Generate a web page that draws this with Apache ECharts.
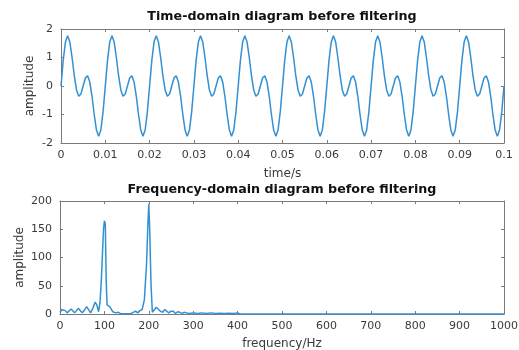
<!DOCTYPE html>
<html>
<head>
<meta charset="utf-8">
<title>Signal before filtering</title>
<script src="https://cdn.jsdelivr.net/npm/echarts@6/dist/echarts.min.js"></script>
<style>
  html, body { margin: 0; padding: 0; background: #fff; }
  #chart { width: 519px; height: 350px; }
</style>
</head>
<body>
<div id="chart"></div>
<script>
// Time-domain samples (sampling interval 0.5 ms), amplitude values
const sampleInterval = 0.0005;
const timeAmplitude = [
  0, 0.90, 1.54, 1.76, 1.54, 1.00, 0.36, -0.14, -0.36, -0.28, 0, 0.28, 0.36, 0.14, -0.36, -1.00, -1.54, -1.76, -1.54, -0.90,
  0, 0.90, 1.54, 1.76, 1.54, 1.00, 0.36, -0.14, -0.36, -0.28, 0, 0.28, 0.36, 0.14, -0.36, -1.00, -1.54, -1.76, -1.54, -0.90,
  0, 0.90, 1.54, 1.76, 1.54, 1.00, 0.36, -0.14, -0.36, -0.28, 0, 0.28, 0.36, 0.14, -0.36, -1.00, -1.54, -1.76, -1.54, -0.90,
  0, 0.90, 1.54, 1.76, 1.54, 1.00, 0.36, -0.14, -0.36, -0.28, 0, 0.28, 0.36, 0.14, -0.36, -1.00, -1.54, -1.76, -1.54, -0.90,
  0, 0.90, 1.54, 1.76, 1.54, 1.00, 0.36, -0.14, -0.36, -0.28, 0, 0.28, 0.36, 0.14, -0.36, -1.00, -1.54, -1.76, -1.54, -0.90,
  0, 0.90, 1.54, 1.76, 1.54, 1.00, 0.36, -0.14, -0.36, -0.28, 0, 0.28, 0.36, 0.14, -0.36, -1.00, -1.54, -1.76, -1.54, -0.90,
  0, 0.90, 1.54, 1.76, 1.54, 1.00, 0.36, -0.14, -0.36, -0.28, 0, 0.28, 0.36, 0.14, -0.36, -1.00, -1.54, -1.76, -1.54, -0.90,
  0, 0.90, 1.54, 1.76, 1.54, 1.00, 0.36, -0.14, -0.36, -0.28, 0, 0.28, 0.36, 0.14, -0.36, -1.00, -1.54, -1.76, -1.54, -0.90,
  0, 0.90, 1.54, 1.76, 1.54, 1.00, 0.36, -0.14, -0.36, -0.28, 0, 0.28, 0.36, 0.14, -0.36, -1.00, -1.54, -1.76, -1.54, -0.90,
  0, 0.90, 1.54, 1.76, 1.54, 1.00, 0.36, -0.14, -0.36, -0.28, 0, 0.28, 0.36, 0.14, -0.36, -1.00, -1.54, -1.76, -1.54, -0.90,
  0
];

// Magnitude spectrum: frequency (Hz) and amplitude
const spectrumHz = [
  0, 4, 8, 12, 16, 20, 25, 29, 33, 37, 41, 45, 50, 55, 60, 64, 69, 74, 79, 83, 87, 90, 93, 96, 98, 100,
  102, 104, 106, 109, 112, 115, 119, 122, 126, 131, 136, 140, 150, 160, 165, 170, 175, 180, 185, 190,
  192, 195, 198, 200, 202, 205, 208, 212, 217, 221, 226, 231, 236, 240, 245, 250, 255, 260, 265, 270,
  275, 280, 285, 290, 300, 310, 320, 330, 340, 350, 360, 370, 380, 390, 400, 405, 1000
];
const spectrumAmp = [
  3, 8, 9, 6, 2, 4, 9, 7, 2, 5, 10, 8, 2, 7, 13, 10, 2, 10, 21, 16, 4, 20, 58, 60, 150, 165,
  160, 60, 16, 14, 13, 10, 4, 1, 2, 3, 1, 0.5, 0.5, 1, 3, 5, 2, 6, 8, 25,
  22, 90, 160, 195, 150, 52, 3, 6, 12, 13, 5, 3, 8, 7, 2, 5, 5, 1, 4, 3,
  1, 3, 2, 1, 2, 1, 2, 1, 2, 1, 1.5, 1, 1.5, 1, 2, 0, 0
];

const timeTicks = { min: 0, max: 0.1, interval: 0.01 };
const timeYTicks = { min: -2, max: 2, interval: 1 };
const freqTicks = { min: 0, max: 1000, interval: 100 };
const freqYTicks = { min: 0, max: 200, interval: 50 };

const lineColor = '#3290d3';
const frameColor = '#7a7a7a';
const labelColor = '#3a3a3a';
const fontFamily = '"DejaVu Sans", "Liberation Sans", sans-serif';

const timeData = timeAmplitude.map((v, i) => [i * sampleInterval, v]);
const spectrumData = spectrumHz.map((f, i) => [f, spectrumAmp[i]]);

function frameAxis(extra) {
  return Object.assign({
    type: 'value',
    nameMoveOverlap: false,
    axisLine: { show: true, onZero: false, lineStyle: { color: frameColor, width: 1 } },
    axisTick: { show: true, inside: true, length: 3, lineStyle: { color: frameColor } },
    splitLine: { show: false },
    axisLabel: { show: true, color: labelColor, fontSize: 11, fontFamily: fontFamily }
  }, extra);
}

const nameStyle = { color: labelColor, fontSize: 12, fontFamily: fontFamily };
const tickLabel = (extra) => Object.assign({ color: labelColor, fontSize: 11, fontFamily: fontFamily, margin: 7 }, extra);

const chart = echarts.init(document.getElementById('chart'), null, { renderer: 'canvas' });

const fmtTime = v => String(+v.toFixed(2));
const fmtPlain = v => String(v);

function titleText(text, y) {
  return {
    type: 'text', x: 282, y: y,
    style: { text: text, fill: '#111', font: 'bold 12.7px ' + fontFamily, align: 'center', verticalAlign: 'middle' }
  };
}

chart.setOption({
  animation: false,
  backgroundColor: '#ffffff',
  graphic: [
    titleText('Time-domain diagram before filtering', 17),
    titleText('Frequency-domain diagram before filtering', 190)
  ],
  grid: [
    { left: 61, top: 29, width: 443, height: 114, outerBoundsMode: 'none', containLabel: false },
    { left: 60, top: 201, width: 444, height: 113, outerBoundsMode: 'none', containLabel: false }
  ],
  xAxis: [
    frameAxis(Object.assign({ gridIndex: 0, position: 'bottom', name: 'time/s', nameLocation: 'middle', nameGap: 25,
      nameTextStyle: nameStyle, axisLabel: tickLabel({ formatter: fmtTime }) }, timeTicks)),
    frameAxis(Object.assign({ gridIndex: 0, position: 'top', axisLabel: { show: false } }, timeTicks)),
    frameAxis(Object.assign({ gridIndex: 1, position: 'bottom', name: 'frequency/Hz', nameLocation: 'middle', nameGap: 24,
      nameTextStyle: nameStyle, axisLabel: tickLabel({ formatter: fmtPlain }) }, freqTicks)),
    frameAxis(Object.assign({ gridIndex: 1, position: 'top', axisLabel: { show: false } }, freqTicks))
  ],
  yAxis: [
    frameAxis(Object.assign({ gridIndex: 0, position: 'left', name: 'amplitude', nameLocation: 'middle', nameGap: 25,
      nameTextStyle: nameStyle, axisLabel: tickLabel({ margin: 8 }) }, timeYTicks)),
    frameAxis(Object.assign({ gridIndex: 0, position: 'right', axisLabel: { show: false } }, timeYTicks)),
    frameAxis(Object.assign({ gridIndex: 1, position: 'left', name: 'amplitude', nameLocation: 'middle', nameGap: 34,
      nameTextStyle: nameStyle, axisLabel: tickLabel({ margin: 8 }) }, freqYTicks)),
    frameAxis(Object.assign({ gridIndex: 1, position: 'right', axisLabel: { show: false } }, freqYTicks))
  ],
  series: [
    { type: 'line', xAxisIndex: 0, yAxisIndex: 0, data: timeData, showSymbol: false,
      lineStyle: { color: lineColor, width: 1.5 } },
    { type: 'line', xAxisIndex: 2, yAxisIndex: 2, data: spectrumData, showSymbol: false,
      lineStyle: { color: lineColor, width: 1.5 } }
  ]
});
</script>
</body>
</html>
